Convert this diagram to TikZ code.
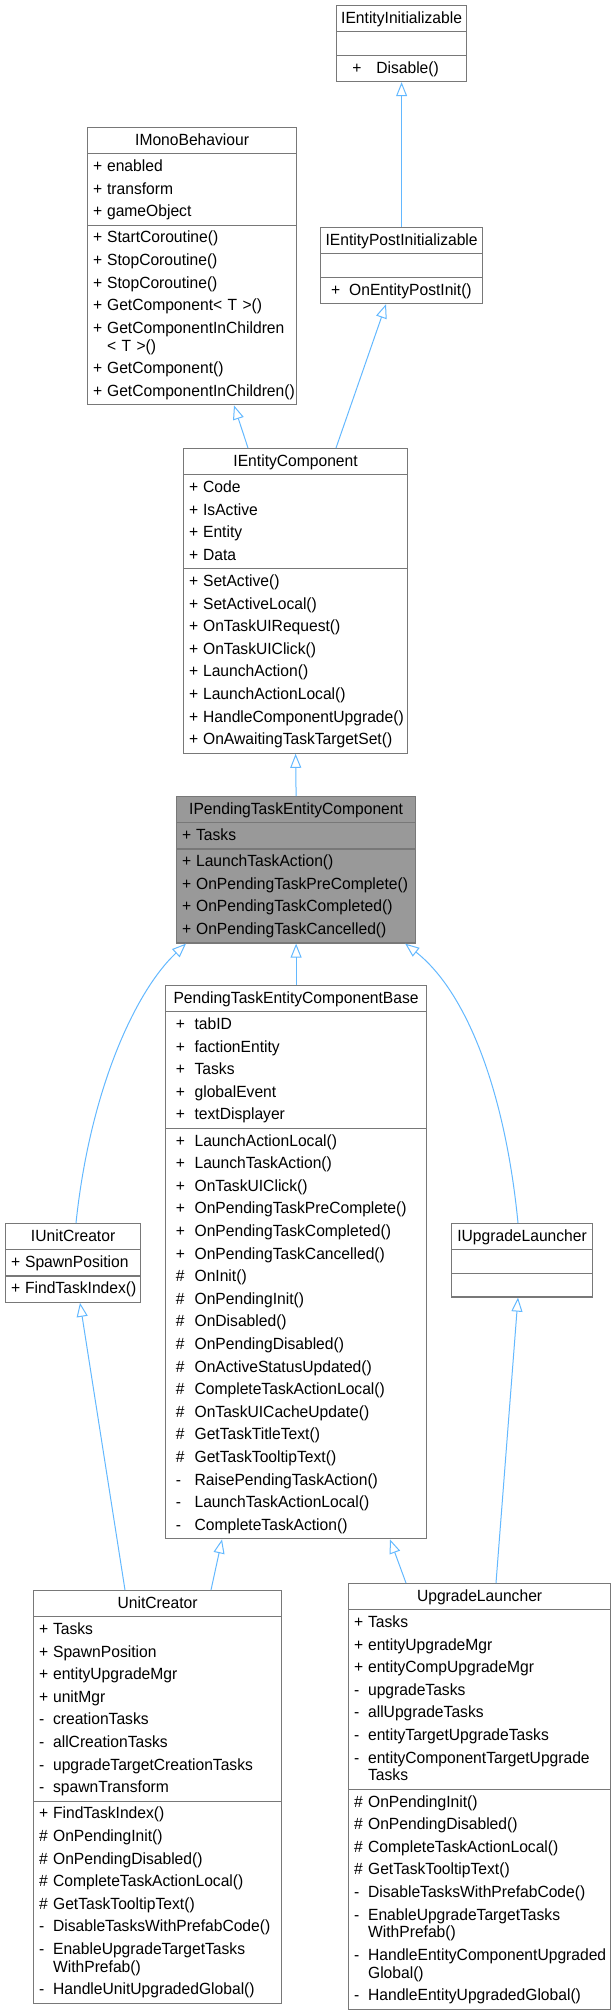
\documentclass[tikz,border=0pt]{standalone}
\usepackage{fontspec}
\setmainfont{Liberation Sans}[FakeStretch=0.965]
\usepackage{tikz}
\usetikzlibrary{shapes.multipart, arrows.meta}
\definecolor{boxgray}{RGB}{120, 120, 120}
\definecolor{selgray}{RGB}{153, 153, 153}
\definecolor{edgeblue}{RGB}{99, 184, 255}
\newlength{\sgnl}
\newlength{\sgnw}
\newcommand{\classfont}{\fontsize{8.1}{11.3}\selectfont}
\newcommand{\hdr}[1]{\strut\makebox[\linewidth]{#1}}
\newcommand{\sgn}[1]{\strut\hspace*{\sgnl}\makebox[\sgnw][l]{#1}}
\newcommand{\cont}{\strut\hspace*{\sgnw}}
\newcommand{\blank}{\rule{0pt}{10pt}}
\hyphenpenalty=10000

\begin{document}
\begin{tikzpicture}[x=0.5pt, y=-0.5pt, >={Triangle[open, length=7pt, width=5.5pt]}]
        % Styles
        \tikzset{classbox/.style n args={3}{rectangle split, rectangle split parts=3, draw=boxgray, line width=0.6pt, fill=white, anchor=north west, inner xsep=2.75pt, inner ysep=0.6pt, text width={#1-5.5pt}, font={\classfont\setlength{\sgnl}{#2}\setlength{\sgnw}{#3}}}}
        \tikzset{cls/.style={classbox={#1}{0pt}{7pt}}}
        \tikzset{selclass/.style={fill=selgray}}
        \tikzset{inheritance/.style={->, draw=edgeblue, line width=0.5pt}}

        \useasboundingbox (0,0) rectangle (614,2012);

        % Interfaces
        \node[classbox={65pt}{5.15pt}{11.95pt}] (initializable) at (336,5) {\hdr{IEntityInitializable}
          \nodepart{two}\blank
          \nodepart{three}\sgn{+}Disable()};
        \node[cls=104.5pt] (monobehaviour) at (87,127) {\hdr{IMonoBehaviour}
          \nodepart{two}\sgn{+}enabled\\\sgn{+}transform\\\sgn{+}gameObject
          \nodepart{three}\sgn{+}StartCoroutine()\\\sgn{+}StopCoroutine()\\\sgn{+}StopCoroutine()\\\sgn{+}GetComponent< T >()\\\sgn{+}GetComponentInChildren\\[-2.4pt]\cont< T >()\\\sgn{+}GetComponent()\\\sgn{+}GetComponentInChildren()};
        \node[classbox={81pt}{2.55pt}{9pt}] (postinit) at (320,227) {\hdr{IEntityPostInitializable}
          \nodepart{two}\blank
          \nodepart{three}\sgn{+}OnEntityPostInit()};
        \node[cls=112pt] (entitycomponent) at (183,448) {\hdr{IEntityComponent}
          \nodepart{two}\sgn{+}Code\\\sgn{+}IsActive\\\sgn{+}Entity\\\sgn{+}Data
          \nodepart{three}\sgn{+}SetActive()\\\sgn{+}SetActiveLocal()\\\sgn{+}OnTaskUIRequest()\\\sgn{+}OnTaskUIClick()\\\sgn{+}LaunchAction()\\\sgn{+}LaunchActionLocal()\\\sgn{+}HandleComponentUpgrade()\\\sgn{+}OnAwaitingTaskTargetSet()};
        \node[cls=119.5pt, selclass] (pendingtask) at (176,796) {\hdr{IPendingTaskEntityComponent}
          \nodepart{two}\sgn{+}Tasks
          \nodepart{three}\sgn{+}LaunchTaskAction()\\\sgn{+}OnPendingTaskPreComplete()\\\sgn{+}OnPendingTaskCompleted()\\\sgn{+}OnPendingTaskCancelled()};
        \node[cls=67.5pt] (iunitcreator) at (5,1223) {\hdr{IUnitCreator}
          \nodepart{two}\sgn{+}SpawnPosition
          \nodepart{three}\sgn{+}FindTaskIndex()};
        \node[cls=70.5pt] (iupgradelauncher) at (451,1223) {\hdr{IUpgradeLauncher}
          \nodepart{two}\blank
          \nodepart{three}\blank};

        % Classes
        \node[classbox={130.5pt}{2.4pt}{9.35pt}] (pendingbase) at (165,985) {\hdr{PendingTaskEntityComponentBase}
          \nodepart{two}\sgn{+}tabID\\\sgn{+}factionEntity\\\sgn{+}Tasks\\\sgn{+}globalEvent\\\sgn{+}textDisplayer
          \nodepart{three}\sgn{+}LaunchActionLocal()\\\sgn{+}LaunchTaskAction()\\\sgn{+}OnTaskUIClick()\\\sgn{+}OnPendingTaskPreComplete()\\\sgn{+}OnPendingTaskCompleted()\\\sgn{+}OnPendingTaskCancelled()\\\sgn{\#}OnInit()\\\sgn{\#}OnPendingInit()\\\sgn{\#}OnDisabled()\\\sgn{\#}OnPendingDisabled()\\\sgn{\#}OnActiveStatusUpdated()\\\sgn{\#}CompleteTaskActionLocal()\\\sgn{\#}OnTaskUICacheUpdate()\\\sgn{\#}GetTaskTitleText()\\\sgn{\#}GetTaskTooltipText()\\\sgn{-}RaisePendingTaskAction()\\\sgn{-}LaunchTaskActionLocal()\\\sgn{-}CompleteTaskAction()};
        \node[cls=124pt] (unitcreator) at (33,1590) {\hdr{UnitCreator}
          \nodepart{two}\sgn{+}Tasks\\\sgn{+}SpawnPosition\\\sgn{+}entityUpgradeMgr\\\sgn{+}unitMgr\\\sgn{-}creationTasks\\\sgn{-}allCreationTasks\\\sgn{-}upgradeTargetCreationTasks\\\sgn{-}spawnTransform
          \nodepart{three}\sgn{+}FindTaskIndex()\\\sgn{\#}OnPendingInit()\\\sgn{\#}OnPendingDisabled()\\\sgn{\#}CompleteTaskActionLocal()\\\sgn{\#}GetTaskTooltipText()\\\sgn{-}DisableTasksWithPrefabCode()\\\sgn{-}EnableUpgradeTargetTasks\\[-2.4pt]\cont WithPrefab()\\\sgn{-}HandleUnitUpgradedGlobal()};
        \node[cls=131pt] (upgradelauncher) at (348,1583) {\hdr{UpgradeLauncher}
          \nodepart{two}\sgn{+}Tasks\\\sgn{+}entityUpgradeMgr\\\sgn{+}entityCompUpgradeMgr\\\sgn{-}upgradeTasks\\\sgn{-}allUpgradeTasks\\\sgn{-}entityTargetUpgradeTasks\\\sgn{-}entityComponentTargetUpgrade\\[-2.4pt]\cont Tasks
          \nodepart{three}\sgn{\#}OnPendingInit()\\\sgn{\#}OnPendingDisabled()\\\sgn{\#}CompleteTaskActionLocal()\\\sgn{\#}GetTaskTooltipText()\\\sgn{-}DisableTasksWithPrefabCode()\\\sgn{-}EnableUpgradeTargetTasks\\[-2.4pt]\cont WithPrefab()\\\sgn{-}HandleEntityComponentUpgraded\\[-2.4pt]\cont Global()\\\sgn{-}HandleEntityUpgradedGlobal()};

        % Inheritance
        \draw[inheritance] (postinit.north) -- (initializable.south);
        \draw[inheritance] ([xshift=32.5pt]entitycomponent.north west) -- ([xshift=73.5pt]monobehaviour.south west);
        \draw[inheritance] ([xshift=76.5pt]entitycomponent.north west) -- ([xshift=33pt]postinit.south west);
        \draw[inheritance] (pendingtask.north) -- (entitycomponent.south);
        \draw[inheritance] (pendingbase.north) -- (pendingtask.south);
        \draw[inheritance] ([xshift=35.5pt]iunitcreator.north west) .. controls +(14,-133) and +(-51,48) .. ([xshift=5pt]pendingtask.south west);
        \draw[inheritance] ([xshift=33.5pt]iupgradelauncher.north west) .. controls +(-13,-133) and +(61,48) .. ([xshift=-5.5pt]pendingtask.south east);
        \draw[inheritance] ([xshift=46pt]unitcreator.north west) -- ([xshift=37.5pt]iunitcreator.south west);
        \draw[inheritance] ([xshift=89pt]unitcreator.north west) -- ([xshift=28.5pt]pendingbase.south west);
        \draw[inheritance] ([xshift=29pt]upgradelauncher.north west) -- ([xshift=112.5pt]pendingbase.south west);
        \draw[inheritance] ([xshift=74pt]upgradelauncher.north west) -- ([xshift=33.5pt]iupgradelauncher.south west);
    \end{tikzpicture}
\end{document}
